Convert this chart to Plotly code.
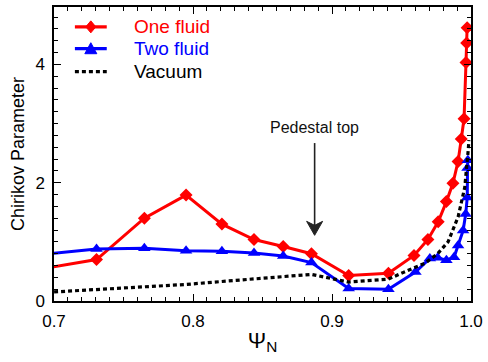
import plotly.graph_objects as go

# Chirikov parameter versus normalised poloidal flux
psi_one = [0.69, 0.7306, 0.765, 0.795, 0.8208, 0.8439, 0.8649, 0.8852, 0.912, 0.9406,
           0.959, 0.969, 0.9764, 0.9823, 0.987, 0.9907, 0.993, 0.995, 0.9964, 0.9969, 0.9972]
chir_one = [0.54, 0.70, 1.40, 1.79, 1.30, 1.04, 0.92, 0.80, 0.43, 0.47,
            0.77, 1.04, 1.34, 1.68, 1.99, 2.36, 2.74, 3.08, 4.03, 4.36, 4.62]

psi_two = [0.69, 0.7306, 0.765, 0.795, 0.8208, 0.8439, 0.8649, 0.8852, 0.912, 0.9406,
           0.960, 0.9704, 0.976, 0.9823, 0.9878, 0.9907, 0.9943, 0.9962, 0.9973, 0.9975, 0.9977]
chir_two = [0.785, 0.88, 0.89, 0.85, 0.84, 0.81, 0.76, 0.65, 0.21, 0.20,
            0.49, 0.72, 0.73, 0.69, 0.74, 0.94, 1.19, 1.47, 1.75, 2.25, 2.38]

psi_vac = [0.69, 0.7306, 0.765, 0.795, 0.8208, 0.8439, 0.8649, 0.8852, 0.912, 0.9406,
           0.951, 0.967, 0.976, 0.9835, 0.9907, 0.9955, 0.998, 0.9985]
chir_vac = [0.14, 0.195, 0.24, 0.28, 0.33, 0.37, 0.41, 0.45, 0.32, 0.37,
            0.48, 0.64, 0.80, 1.00, 1.42, 1.92, 2.55, 2.72]

series_names = ["One fluid", "Two fluid", "Vacuum"]
series_colors = ["#ff0000", "#0000ff", "#000000"]

x_ticks = [0.7, 0.8, 0.9, 1.0]
x_ticklabels = ["0.7", "0.8", "0.9", "1.0"]
y_ticks = [0, 2, 4]

pedestal_psi = 0.8875
pedestal_arrow = (2.67, 1.11)   # tail and tip of the arrow, in Chirikov units
pedestal_label_y = 2.93

FONT = "Liberation Sans, Arial, sans-serif"
VAC_DASH = "4px,3px"

fig = go.Figure()
fig.add_trace(go.Scatter(
    x=psi_one, y=chir_one, mode="lines+markers", name=series_names[0],
    line=dict(color=series_colors[0], width=3),
    marker=dict(symbol="diamond", size=10, color=series_colors[0]),
))
fig.add_trace(go.Scatter(
    x=psi_two, y=chir_two, mode="lines+markers", name=series_names[1],
    line=dict(color=series_colors[1], width=3),
    marker=dict(symbol="triangle-up", size=11, color=series_colors[1]),
))
fig.add_trace(go.Scatter(
    x=psi_vac, y=chir_vac, mode="lines", name=series_names[2],
    line=dict(color=series_colors[2], width=3.2, dash=VAC_DASH),
))

# Pedestal-top arrow (shaft + barbed head) and its label
tail_y, tip_y = pedestal_arrow
fig.add_shape(type="line", xref="x", yref="y",
              x0=pedestal_psi, x1=pedestal_psi, y0=tail_y, y1=tip_y + 0.15,
              line=dict(color="#222222", width=1.6))
fig.add_shape(type="path", xref="x", yref="y",
              xsizemode="pixel", ysizemode="pixel",
              xanchor=pedestal_psi, yanchor=tip_y,
              path="M0,0 L-8,14 L0,10 L8,14 Z",
              fillcolor="#222222", line=dict(color="#222222", width=1))
fig.add_annotation(
    x=pedestal_psi, y=pedestal_label_y, xref="x", yref="y",
    text="Pedestal top", showarrow=False,
    font=dict(family=FONT, size=16, color="#111111"),
)

# Legend key, drawn in the upper-left corner of the plot area
legend_rows_y = [0.9324, 0.8581, 0.7804]
line_x0, line_x1, mark_x, text_x = 0.0501, 0.1265, 0.0883, 0.1862
marker_paths = ["M0,-6 L5,0 L0,6 L-5,0 Z", "M-6,-5 L6,-5 L0,6 Z", None]
for name, color, ry, mpath in zip(series_names, series_colors, legend_rows_y, marker_paths):
    dash = "solid" if mpath else VAC_DASH
    fig.add_shape(type="line", xref="paper", yref="paper",
                  x0=line_x0, x1=line_x1, y0=ry, y1=ry,
                  line=dict(color=color, width=3.2, dash=dash))
    if mpath:
        fig.add_shape(type="path", xref="paper", yref="paper",
                      xsizemode="pixel", ysizemode="pixel",
                      xanchor=mark_x, yanchor=ry, path=mpath,
                      fillcolor=color, line=dict(color=color, width=1))
    fig.add_annotation(x=text_x, y=ry, xref="paper", yref="paper",
                       xanchor="left", yanchor="middle", showarrow=False,
                       text=name, font=dict(family=FONT, size=19, color=color))

axis_common = dict(
    showline=True, linecolor="#000000", linewidth=1.5, mirror="allticks",
    ticks="inside", ticklen=7, tickwidth=1, tickcolor="#000000",
    showgrid=False, zeroline=False,
    tickfont=dict(family=FONT, size=17, color="#000000"),
)

fig.update_xaxes(
    range=[0.7, 1.0], tickvals=x_ticks, ticktext=x_ticklabels,
    ticklabelstandoff=4,
    minor=dict(ticks="inside", dtick=0.01, tick0=0.7, ticklen=4, tickcolor="#000000"),
    title=dict(text="Ψ<sub>N</sub>", font=dict(family=FONT, size=22, color="#000000"), standoff=2),
    **axis_common,
)
fig.update_yaxes(
    range=[0, 4.97], tickvals=y_ticks,
    ticklabelstandoff=4,
    minor=dict(ticks="inside", dtick=0.2, tick0=0, ticklen=4, tickcolor="#000000"),
    title=dict(text="Chirikov Parameter", font=dict(family=FONT, size=18, color="#000000"), standoff=6),
    **axis_common,
)

fig.update_layout(
    width=488, height=362,
    margin=dict(l=54, r=15, t=5, b=61),
    paper_bgcolor="white", plot_bgcolor="white",
    showlegend=False,
)

fig.write_html("out.html")
